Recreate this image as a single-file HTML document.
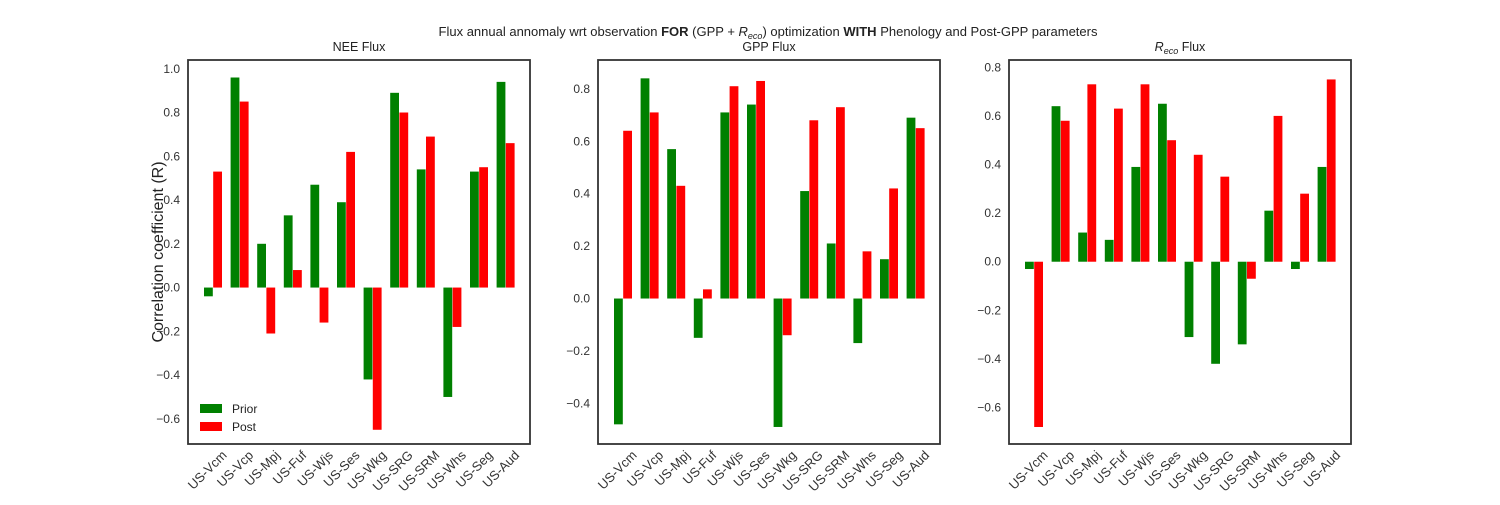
<!DOCTYPE html>
<html><head><meta charset="utf-8"><style>
body{margin:0;background:#fff;}
svg{font-family:"Liberation Sans","DejaVu Sans",sans-serif;}
</style></head><body>
<svg id="c" width="1500" height="500" xmlns="http://www.w3.org/2000/svg">
<text x="768" y="36" font-size="13" text-anchor="middle" fill="#222">Flux annual annomaly wrt observation <tspan font-weight="bold">FOR</tspan> (GPP + <tspan font-style="italic">R</tspan><tspan font-size="9" dy="3" font-style="italic">eco</tspan><tspan dy="-3">) optimization </tspan><tspan font-weight="bold">WITH</tspan> Phenology and Post-GPP parameters</text>
<text transform="translate(163,252) rotate(-90)" font-size="16" text-anchor="middle" fill="#222">Correlation coefficient (R)</text>
</svg>
<script>
const categories=["US-Vcm","US-Vcp","US-Mpj","US-Fuf","US-Wjs","US-Ses","US-Wkg","US-SRG","US-SRM","US-Whs","US-Seg","US-Aud"];
const neePrior=[-0.04,0.96,0.2,0.33,0.47,0.39,-0.42,0.89,0.54,-0.5,0.53,0.94];
const neePost=[0.53,0.85,-0.21,0.08,-0.16,0.62,-0.65,0.8,0.69,-0.18,0.55,0.66];
const gppPrior=[-0.48,0.84,0.57,-0.15,0.71,0.74,-0.49,0.41,0.21,-0.17,0.15,0.69];
const gppPost=[0.64,0.71,0.43,0.035,0.81,0.83,-0.14,0.68,0.73,0.18,0.42,0.65];
const recoPrior=[-0.03,0.64,0.12,0.09,0.39,0.65,-0.31,-0.42,-0.34,0.21,-0.03,0.39];
const recoPost=[-0.68,0.58,0.73,0.63,0.73,0.5,0.44,0.35,-0.07,0.6,0.28,0.75];
const neeTicks=[-0.6,-0.4,-0.2,0.0,0.2,0.4,0.6,0.8,1.0];
const gppTicks=[-0.4,-0.2,0.0,0.2,0.4,0.6,0.8];
const recoTicks=[-0.6,-0.4,-0.2,0.0,0.2,0.4,0.6,0.8];
const NS="http://www.w3.org/2000/svg";
const svg=document.getElementById('c');
function mk(t,a,p){const e=document.createElementNS(NS,t);for(const k in a)e.setAttribute(k,a[k]);(p||svg).appendChild(e);return e;}
const panels=[
 {name:'nee',left:188,ymin:-0.715,ymax:1.04,prior:neePrior,post:neePost,ticks:neeTicks,title:'NEE Flux'},
 {name:'gpp',left:598,ymin:-0.555,ymax:0.91,prior:gppPrior,post:gppPost,ticks:gppTicks,title:'GPP Flux'},
 {name:'reco',left:1009,ymin:-0.75,ymax:0.83,prior:recoPrior,post:recoPost,ticks:recoTicks,title:'reco'}
];
const plotTop=60,plotBot=444,W=342;
panels.forEach((p,pi)=>{
 const g=mk('g',{});
 
 
 const y=v=>plotBot-(v-p.ymin)/(p.ymax-p.ymin)*(plotBot-plotTop);
 const x=i=>p.left+16+i*26.6;
 categories.forEach((c,i)=>{
  const y0=y(0);
  [[p.prior[i],'#008000',0,'prior'],[p.post[i],'#ff0000',9.2,'post']].forEach(([v,col,off,s])=>{
   const yv=y(v);
   const r=mk('rect',{x:x(i)+off,y:Math.min(yv,y0),width:8.8,height:Math.abs(yv-y0),fill:col},g);
   
   
  });
  const tx=x(i)+9.5;
  const t=mk('text',{transform:`translate(${tx+14},${plotBot+12}) rotate(-45)`,'font-size':13,'text-anchor':'end',fill:'#333'},g);
  t.textContent=c;
  
  
 });
 p.ticks.forEach(v=>{
  const t=mk('text',{x:p.left-8,y:y(v)+4,'font-size':12,'text-anchor':'end',fill:'#333'},g);
  t.textContent=(v<0?'\u2212':'')+Math.abs(v).toFixed(1);
  
  
 });
 const b=mk('rect',{x:p.left,y:plotTop,width:W,height:plotBot-plotTop,fill:'none',stroke:'#333','stroke-width':1.8},g);
 
 
 const tt=mk('text',{x:p.left+W/2,y:51,'font-size':12.5,'text-anchor':'middle',fill:'#222'},g);
 
 
 if(p.title==='reco'){tt.innerHTML='<tspan font-style="italic">R</tspan><tspan font-size="9" dy="3" font-style="italic">eco</tspan><tspan dy="-3"> Flux</tspan>';}
 else tt.textContent=p.title;
});
[['Prior','#008000',403],['Post','#ff0000',421]].forEach(([l,c,yy])=>{
 const g=mk('g',{});
 
 
 mk('rect',{x:200,y:yy+1,width:22,height:9,fill:c},g);
 const t=mk('text',{x:232,y:yy+10,'font-size':12,fill:'#222'},g);
 t.textContent=l;
});
</script>
</body></html>
